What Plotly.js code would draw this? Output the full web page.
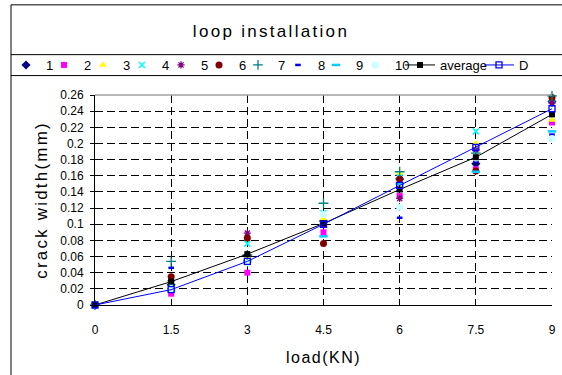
<!DOCTYPE html>
<html><head><meta charset="utf-8">
<script src="https://cdn.plot.ly/plotly-3.0.1.min.js"></script>
<style>
html,body{margin:0;padding:0;background:#fff;}
#chart{width:562px;height:375px;}
.gtitle{letter-spacing:2.3px;}
.xtitle{letter-spacing:1.5px;}
.ytitle{letter-spacing:2.2px;}
</style>
</head><body><div id="chart"></div>
<script>
// ---- data ----
var loads = [0, 1.5, 3, 4.5, 6, 7.5, 9];
var loadLabels = ['0', '1.5', '3', '4.5', '6', '7.5', '9'];
var seriesNames = ['1', '2', '3', '4', '5', '6', '7', '8', '9', '10'];
var s1  = [0, 0.025, 0.061, 0.104, 0.156, 0.175, 0.252];
var s2  = [0, 0.014, 0.040, 0.090, 0.135, 0.168, 0.226];
var s3  = [0, 0.022, 0.059, 0.107, 0.163, 0.200, 0.229];
var s4  = [0, 0.024, 0.076, 0.114, 0.158, 0.215, 0.255];
var s5  = [0, 0.030, 0.089, 0.099, 0.132, 0.192, 0.250];
var s6  = [0, 0.035, 0.083, 0.076, 0.156, 0.166, 0.257];
var s7  = [0, 0.054, 0.062, 0.126, 0.165, 0.188, 0.259];
var s8  = [0, 0.046, 0.054, 0.102, 0.108, 0.178, 0.211];
var s9  = [0, 0.018, 0.054, 0.085, 0.150, 0.165, 0.215];
var s10 = [0, 0.020, 0.052, 0.112, 0.121, 0.182, 0.206];
var average = [0, 0.029, 0.063, 0.101, 0.143, 0.183, 0.236];
var design  = [0, 0.019, 0.054, 0.100, 0.148, 0.195, 0.243];

// ---- styles ----
var FONT = 'Liberation Sans, Arial, sans-serif';
var W = 562, H = 375;
var M = {l: 95, r: 10, t: 94.5, b: 69.7};
var PW = W - M.l - M.r, PH = H - M.t - M.b;
function px(x) { return (x - M.l) / PW; }
function py(y) { return (H - M.b - y) / PH; }

var seriesData = [s1, s2, s3, s4, s5, s6, s7, s8, s9, s10];
var seriesMarkers = [
  {symbol: 'diamond', color: '#000080', size: 7},
  {symbol: 'square', color: '#FF00FF', size: 6},
  {symbol: 'triangle-up', color: '#FFFF00', size: 7},
  {symbol: 'x-thin-open', color: '#00FFFF', size: 6, line: {width: 1.5, color: '#00FFFF'}},
  {symbol: 'asterisk-open', color: '#800080', size: 6, line: {width: 1.3, color: '#800080'}},
  {symbol: 'circle', color: '#800000', size: 7},
  {symbol: 'cross-thin-open', color: '#008080', size: 7, line: {width: 1.3, color: '#008080'}},
  {symbol: 'line-ew-open', color: '#0000FF', size: 4, line: {width: 2.5, color: '#0000FF'}},
  {symbol: 'line-ew-open', color: '#00CCFF', size: 6, line: {width: 2.5, color: '#00CCFF'}},
  {symbol: 'circle', color: '#CCFFFF', size: 7}
];
// legend marker centers (px) for each entry
var legendCenters = [27, 65, 104, 143, 182, 220, 259, 299, 337, 376, 421, 500];

var traces = [];
for (var i = 0; i < seriesData.length; i++) {
  traces.push({
    x: loads, y: seriesData[i], name: seriesNames[i],
    type: 'scatter', mode: 'markers', marker: seriesMarkers[i],
    legend: i === 0 ? 'legend' : 'legend' + (i + 1), cliponaxis: false
  });
}
traces.push({
  x: loads, y: average, name: 'average', type: 'scatter', mode: 'lines+markers',
  line: {color: '#000000', width: 1}, marker: {symbol: 'square', color: '#000000', size: 6},
  legend: 'legend11', cliponaxis: false
});
traces.push({
  x: loads, y: design, name: 'D', type: 'scatter', mode: 'lines+markers',
  line: {color: '#0000FF', width: 1},
  marker: {symbol: 'square-open', color: '#0000FF', size: 6, line: {width: 1.3, color: '#0000FF'}},
  legend: 'legend12', cliponaxis: false
});

var layout = {
  width: W, height: H,
  margin: {l: M.l, r: M.r, t: M.t, b: M.b, autoexpand: false},
  paper_bgcolor: '#ffffff', plot_bgcolor: '#ffffff',
  font: {family: FONT, color: '#000000', size: 12},
  showlegend: true,
  title: {text: 'loop installation', x: 271 / W, xref: 'container', xanchor: 'center',
          y: 1 - 31 / H, yref: 'container', yanchor: 'middle',
          font: {family: FONT, size: 17, color: '#000'}},
  xaxis: {
    range: [0, 9], tickmode: 'array', tickvals: loads, ticktext: loadLabels,
    showline: true, linecolor: '#000', linewidth: 1, zeroline: false,
    ticks: 'inside', ticklen: 5, tickcolor: '#000',
    ticklabelstandoff: 14,
    showgrid: true, gridcolor: '#000', griddash: '8px,4px', gridwidth: 1,
    tickfont: {family: FONT, size: 12},
    title: {text: 'load(KN)', font: {family: FONT, size: 16}, standoff: 15}
  },
  yaxis: {
    range: [0, 0.26], tick0: 0, dtick: 0.02,
    showline: true, linecolor: '#000', linewidth: 1, zeroline: false,
    ticks: 'outside', ticklen: 4, tickcolor: '#000',
    ticklabelstandoff: 4,
    showgrid: true, gridcolor: '#000', griddash: '8px,4px', gridwidth: 1,
    tickfont: {family: FONT, size: 12},
    title: {text: 'crack width(mm)', font: {family: FONT, size: 17}, standoff: 8}
  },
  shapes: [
    {type: 'line', xref: 'paper', yref: 'paper', x0: 0, x1: 1, y0: 1, y1: 1, line: {color: '#a0a0a0', width: 1.5}},
    {type: 'line', xref: 'paper', yref: 'paper', x0: px(11), x1: px(11), y0: py(4), y1: py(380), line: {color: '#000', width: 1}},
    {type: 'line', xref: 'paper', yref: 'paper', x0: px(11), x1: px(570), y0: py(4), y1: py(4), line: {color: '#000', width: 1}},
    {type: 'line', xref: 'paper', yref: 'paper', x0: px(11), x1: px(570), y0: py(54), y1: py(54), line: {color: '#000', width: 1}},
    {type: 'line', xref: 'paper', yref: 'paper', x0: px(11), x1: px(570), y0: py(75), y1: py(75), line: {color: '#000', width: 1}}
  ]
};

for (var k = 0; k < legendCenters.length; k++) {
  var key = k === 0 ? 'legend' : 'legend' + (k + 1);
  layout[key] = {
    orientation: 'h', xref: 'container', yref: 'container',
    x: (legendCenters[k] - 21) / W, xanchor: 'left',
    y: 1 - 65 / H, yanchor: 'middle',
    bgcolor: 'rgba(0,0,0,0)', borderwidth: 0,
    font: {family: FONT, size: 13, color: '#000'}
  };
}

Plotly.newPlot('chart', traces, layout, {displayModeBar: false, staticPlot: true});
</script>
</body></html>
